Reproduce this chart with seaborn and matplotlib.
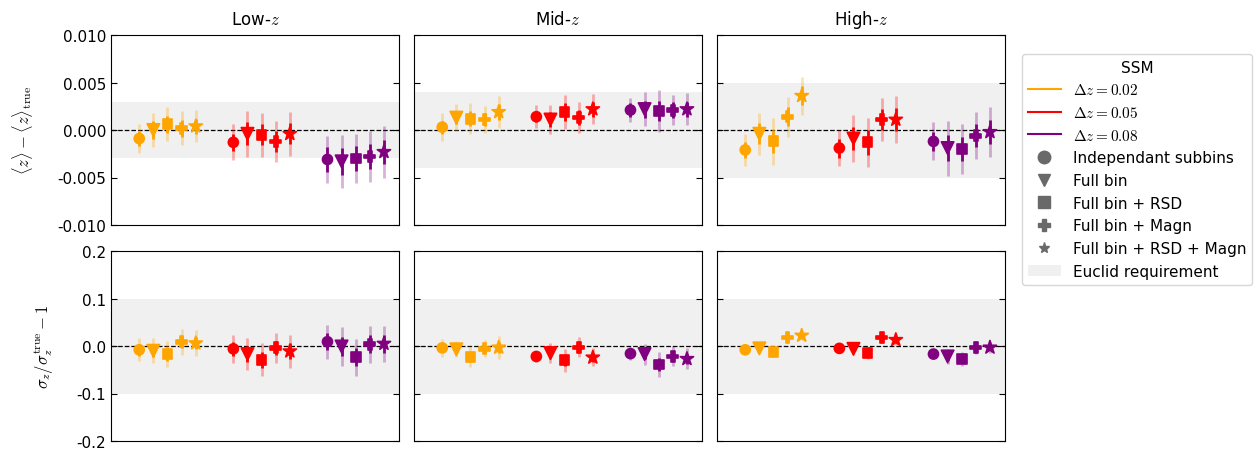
import numpy as np
import pandas as pd
import seaborn as sns
import matplotlib
matplotlib.use("Agg")
import matplotlib.pyplot as plt
from matplotlib.lines import Line2D
from matplotlib.patches import Patch

# ---------------------------------------------------------------- data
bins = ["Low", "Mid", "High"]
ssm_labels = [r"$\Delta z = 0.02$", r"$\Delta z = 0.05$", r"$\Delta z = 0.08$"]
ssm_colors = ["orange", "red", "purple"]
methods = ["Independant subbins", "Full bin", "Full bin + RSD",
           "Full bin + Magn", "Full bin + RSD + Magn"]
method_markers = ["o", "v", "s", "P", "*"]
method_sizes = [52, 80, 50, 62, 100]

# Mean-redshift bias, ordered by SSM (0.02, 0.05, 0.08) then by method
low_dmean = [-0.0009, 0.0000, 0.0006, 0.0002, 0.0004,
             -0.0013, -0.0004, -0.0005, -0.0012, -0.0004,
             -0.0031, -0.0033, -0.0030, -0.0028, -0.0023]
low_dmean_err = [0.0015, 0.0018, 0.0018, 0.0018, 0.0017,
                 0.0019, 0.0024, 0.0023, 0.0022, 0.0023,
                 0.0025, 0.0028, 0.0026, 0.0027, 0.0027]
low_dmean_err_in = [0.0008, 0.0009, 0.0009, 0.0009, 0.0008,
                    0.0009, 0.0012, 0.0011, 0.0011, 0.0011,
                    0.0013, 0.0014, 0.0013, 0.0013, 0.0013]

mid_dmean = [0.0003, 0.0013, 0.0012, 0.0011, 0.0019,
             0.0014, 0.0011, 0.0019, 0.0013, 0.0022,
             0.0021, 0.0022, 0.0020, 0.0021, 0.0022]
mid_dmean_err = [0.0015, 0.0014, 0.0016, 0.0014, 0.0017,
                 0.0012, 0.0015, 0.0018, 0.0016, 0.0016,
                 0.0013, 0.0018, 0.0022, 0.0016, 0.0017]
mid_dmean_err_in = [0.0007, 0.0007, 0.0008, 0.0007, 0.0008,
                    0.0006, 0.0008, 0.0009, 0.0008, 0.0008,
                    0.0007, 0.0009, 0.0011, 0.0008, 0.0008]

high_dmean = [-0.0021, -0.0004, -0.0012, 0.0014, 0.0036,
              -0.0019, -0.0009, -0.0013, 0.0011, 0.0011,
              -0.0012, -0.0019, -0.0020, -0.0006, -0.0002]
high_dmean_err = [0.0017, 0.0022, 0.0025, 0.0021, 0.0020,
                  0.0019, 0.0025, 0.0026, 0.0023, 0.0025,
                  0.0020, 0.0029, 0.0026, 0.0025, 0.0026]
high_dmean_err_in = [0.0008, 0.0011, 0.0012, 0.0010, 0.0010,
                     0.0010, 0.0012, 0.0013, 0.0011, 0.0012,
                     0.0010, 0.0014, 0.0013, 0.0012, 0.0013]

# Relative width bias
low_dsigma = [-0.008, -0.010, -0.017, 0.009, 0.006,
              -0.006, -0.017, -0.029, -0.004, -0.011,
              0.009, -0.001, -0.024, 0.004, 0.005]
low_dsigma_err = [0.024, 0.026, 0.028, 0.027, 0.027,
                  0.029, 0.034, 0.035, 0.031, 0.035,
                  0.036, 0.042, 0.039, 0.039, 0.038]
low_dsigma_err_in = [0.012, 0.013, 0.014, 0.013, 0.013,
                     0.014, 0.017, 0.017, 0.015, 0.017,
                     0.018, 0.021, 0.019, 0.019, 0.019]

mid_dsigma = [-0.004, -0.007, -0.023, -0.006, -0.003,
              -0.022, -0.015, -0.030, -0.003, -0.024,
              -0.016, -0.017, -0.039, -0.022, -0.027]
mid_dsigma_err = [0.019, 0.017, 0.022, 0.018, 0.024,
                  0.012, 0.021, 0.024, 0.021, 0.019,
                  0.013, 0.022, 0.027, 0.021, 0.022]
mid_dsigma_err_in = [0.009, 0.008, 0.011, 0.009, 0.012,
                     0.006, 0.010, 0.012, 0.010, 0.009,
                     0.006, 0.011, 0.013, 0.010, 0.011]

high_dsigma = [-0.008, -0.005, -0.012, 0.018, 0.022,
               -0.005, -0.006, -0.015, 0.018, 0.013,
               -0.017, -0.022, -0.027, -0.003, -0.003]
high_dsigma_err = [0.008, 0.010, 0.012, 0.010, 0.009,
                   0.008, 0.011, 0.013, 0.010, 0.010,
                   0.009, 0.015, 0.015, 0.013, 0.012]
high_dsigma_err_in = [0.004, 0.005, 0.006, 0.005, 0.004,
                      0.004, 0.005, 0.006, 0.005, 0.005,
                      0.004, 0.007, 0.007, 0.006, 0.006]

# Euclid requirements on each statistic
mean_requirement = [0.0029, 0.0040, 0.0050]
sigma_requirement = [0.1, 0.1, 0.1]

mean_ticks = [-0.010, -0.005, 0.000, 0.005, 0.010]
sigma_ticks = [-0.2, -0.1, 0.0, 0.1, 0.2]

# ---------------------------------------------------------------- frame
rows = []
stats = {
    "Low": (low_dmean, low_dmean_err, low_dmean_err_in,
            low_dsigma, low_dsigma_err, low_dsigma_err_in),
    "Mid": (mid_dmean, mid_dmean_err, mid_dmean_err_in,
            mid_dsigma, mid_dsigma_err, mid_dsigma_err_in),
    "High": (high_dmean, high_dmean_err, high_dmean_err_in,
             high_dsigma, high_dsigma_err, high_dsigma_err_in),
}
for b in bins:
    m, me, mei, s, se, sei = stats[b]
    for i, ssm in enumerate(ssm_labels):
        for j, meth in enumerate(methods):
            k = i * len(methods) + j
            rows.append(dict(bin=b, ssm=ssm, method=meth,
                             x=i + 0.15 * (j - 2),
                             dmean=m[k], dmean_err=me[k], dmean_err_in=mei[k],
                             dsigma=s[k], dsigma_err=se[k], dsigma_err_in=sei[k]))
df = pd.DataFrame(rows)

# ---------------------------------------------------------------- style
plt.rcParams["mathtext.fontset"] = "cm"
plt.rcParams["font.size"] = 11
plt.rcParams["xtick.direction"] = "in"
plt.rcParams["ytick.direction"] = "in"

palette = dict(zip(ssm_labels, ssm_colors))
marker_map = dict(zip(methods, method_markers))
size_map = dict(zip(methods, method_sizes))

fig, axes = plt.subplots(2, 3, figsize=(12.6, 4.52), dpi=100)

W, H = 1260.0, 452.0
col_left = [111, 414, 717]
col_w = 288
row_top = [36, 252]
row_h = 190

for r, (col, err, err_in, req, ticks) in enumerate([
        ("dmean", "dmean_err", "dmean_err_in", mean_requirement, mean_ticks),
        ("dsigma", "dsigma_err", "dsigma_err_in", sigma_requirement, sigma_ticks)]):
    for c, b in enumerate(bins):
        ax = axes[r, c]
        ax.set_position([col_left[c] / W, 1 - (row_top[r] + row_h) / H,
                         col_w / W, row_h / H])
        sub = df[df["bin"] == b]

        ax.axhspan(-req[c], req[c], color="#f0f0f0", zorder=0, lw=0)
        ax.axhline(0, color="black", ls="--", lw=0.9, zorder=1)

        for ssm, color in palette.items():
            g = sub[sub["ssm"] == ssm]
            ax.errorbar(g["x"], g[col], yerr=g[err], fmt="none",
                        ecolor=color, alpha=0.3, elinewidth=2, zorder=2)
            ax.errorbar(g["x"], g[col], yerr=g[err_in], fmt="none",
                        ecolor=color, elinewidth=2, zorder=3)

        sns.scatterplot(data=sub, x="x", y=col, hue="ssm", style="method",
                        size="method", sizes=size_map,
                        palette=palette, markers=marker_map,
                        edgecolor="face", linewidth=1.2,
                        legend=False, ax=ax, zorder=4)

        ax.set_xlim(-0.6, 2.46)
        ax.set_ylim(ticks[0], ticks[-1])
        ax.set_yticks(ticks)
        ax.set_xticks([])
        ax.set_xlabel("")
        ax.set_ylabel("")
        ax.tick_params(axis="y", left=True, right=True, length=4)
        if c == 0:
            if r == 0:
                ax.set_yticklabels([f"{t:.3f}" for t in ticks])
            else:
                ax.set_yticklabels([f"{t:.1f}" for t in ticks])
        else:
            ax.set_yticklabels([])
        if r == 0:
            ax.set_title(f"{b}-$z$", fontsize=12, pad=8)

axes[0, 0].set_ylabel(r"$\langle z \rangle - \langle z \rangle_{\rm true}$",
                      fontsize=12, labelpad=16)
axes[1, 0].set_ylabel(r"$\sigma_z / \sigma_z^{\rm true} - 1$",
                      fontsize=12, labelpad=15)

handles = [Line2D([], [], color=col, lw=1.5) for col in ssm_colors]
handles += [Line2D([], [], color="dimgray", marker=mk, ls="none",
                   markersize=(9 if mk != "*" else 8))
            for mk in method_markers]
handles.append(Patch(facecolor="#f0f0f0", edgecolor="none"))
labels = ssm_labels + methods + ["Euclid requirement"]

fig.legend(handles, labels, title="SSM", loc="upper left",
           bbox_to_anchor=(1014 / W, 1 - 47 / H), fontsize=11,
           title_fontsize=11, handlelength=2.15, frameon=True)

fig.savefig("out.png", dpi=100)
